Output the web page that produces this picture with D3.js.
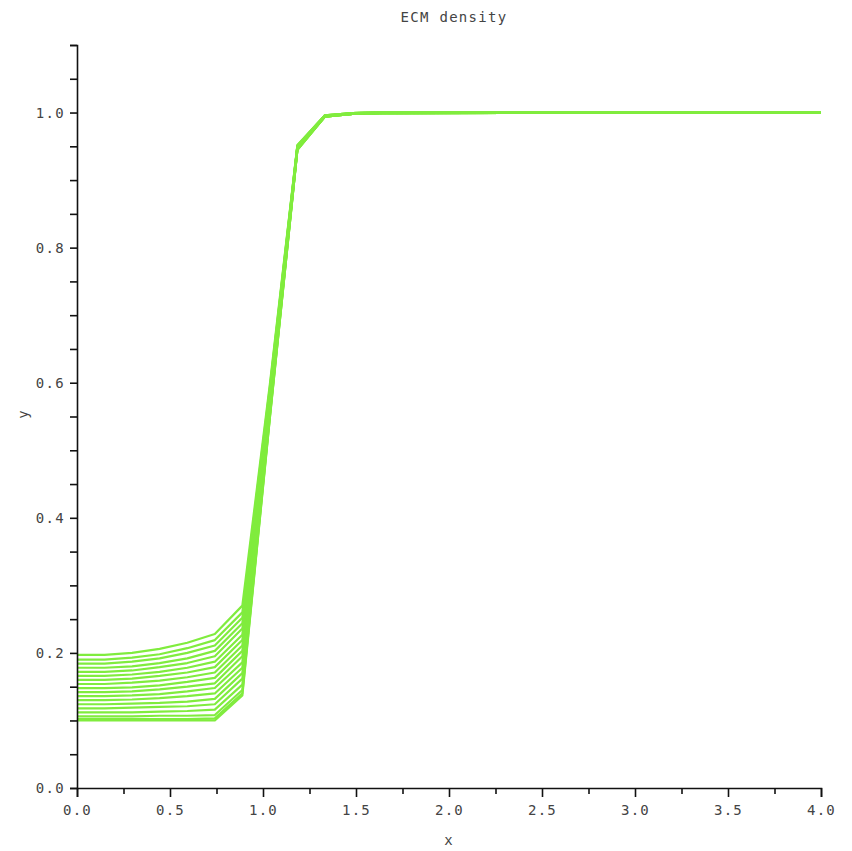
<!DOCTYPE html>
<html>
<head>
<meta charset="utf-8">
<script src="https://cdn.jsdelivr.net/npm/d3@7"></script>
<style>
  html, body { margin: 0; padding: 0; background: #fff; }
  svg text { font-family: "DejaVu Sans Mono", "Liberation Mono", monospace; font-size: 14px; fill: #444; letter-spacing: 1.3px; }
</style>
</head>
<body>
<svg id="chart" width="852" height="851"></svg>
<script>
// Mesh nodes along x
const xNodes = [0, 0.148, 0.296, 0.444, 0.593, 0.741, 0.889, 1.037, 1.185, 1.333, 1.481, 1.630, 4.0];

// ECM density profiles, one per output time (earliest first)
const density = [
  [0.100, 0.100, 0.100, 0.100, 0.100, 0.100, 0.137, 0.548, 0.945, 0.994, 0.998, 0.999, 1.000],
  [0.102, 0.102, 0.102, 0.102, 0.102, 0.103, 0.140, 0.549, 0.945, 0.994, 0.998, 0.999, 1.000],
  [0.106, 0.106, 0.106, 0.107, 0.107, 0.108, 0.145, 0.551, 0.945, 0.994, 0.998, 0.999, 1.000],
  [0.112, 0.112, 0.112, 0.113, 0.114, 0.116, 0.153, 0.554, 0.946, 0.994, 0.998, 0.999, 1.000],
  [0.118, 0.118, 0.119, 0.120, 0.121, 0.124, 0.162, 0.557, 0.946, 0.994, 0.998, 0.999, 1.000],
  [0.124, 0.124, 0.125, 0.126, 0.128, 0.132, 0.170, 0.560, 0.947, 0.994, 0.998, 0.999, 1.000],
  [0.130, 0.130, 0.131, 0.133, 0.136, 0.140, 0.178, 0.563, 0.947, 0.995, 0.998, 0.999, 1.000],
  [0.136, 0.136, 0.137, 0.139, 0.143, 0.148, 0.186, 0.567, 0.948, 0.995, 0.998, 0.999, 1.000],
  [0.142, 0.142, 0.143, 0.146, 0.150, 0.155, 0.195, 0.570, 0.948, 0.995, 0.998, 0.999, 1.000],
  [0.148, 0.148, 0.149, 0.152, 0.157, 0.163, 0.203, 0.573, 0.948, 0.995, 0.998, 1.000, 1.000],
  [0.154, 0.154, 0.156, 0.159, 0.164, 0.171, 0.211, 0.576, 0.949, 0.995, 0.999, 1.000, 1.000],
  [0.160, 0.160, 0.162, 0.166, 0.171, 0.179, 0.219, 0.579, 0.949, 0.995, 0.999, 1.000, 1.000],
  [0.166, 0.166, 0.168, 0.172, 0.178, 0.187, 0.227, 0.582, 0.950, 0.995, 0.999, 1.000, 1.000],
  [0.172, 0.172, 0.174, 0.179, 0.185, 0.195, 0.236, 0.585, 0.950, 0.995, 0.999, 1.000, 1.000],
  [0.178, 0.178, 0.180, 0.185, 0.192, 0.203, 0.244, 0.588, 0.951, 0.996, 0.999, 1.000, 1.000],
  [0.184, 0.184, 0.187, 0.192, 0.200, 0.211, 0.252, 0.591, 0.951, 0.996, 0.999, 1.000, 1.000],
  [0.190, 0.190, 0.193, 0.198, 0.207, 0.219, 0.260, 0.594, 0.951, 0.996, 0.999, 1.000, 1.000],
  [0.197, 0.197, 0.200, 0.206, 0.215, 0.228, 0.270, 0.598, 0.952, 0.996, 0.999, 1.000, 1.000]
];

// Axis ticks
const xMajorTicks = [0, 0.5, 1.0, 1.5, 2.0, 2.5, 3.0, 3.5, 4.0];
const xMinorTicks = [0.25, 0.75, 1.25, 1.75, 2.25, 2.75, 3.25, 3.75];
const yMajorTicks = [0, 0.2, 0.4, 0.6, 0.8, 1.0];
const yMinorTicks = [0.05, 0.1, 0.15, 0.25, 0.3, 0.35, 0.45, 0.5, 0.55, 0.65, 0.7, 0.75, 0.85, 0.9, 0.95, 1.05, 1.1];

const titleText = "ECM density";
const xLabel = "x";
const yLabel = "y";

const svg = d3.select("#chart");
const plot = { left: 77, right: 821, top: 45, bottom: 788 };

const x = d3.scaleLinear().domain([0, 4]).range([plot.left, plot.right]);
const y = d3.scaleLinear().domain([0, 1.1]).range([plot.bottom, plot.top]);

// Curves
const line = d3.line()
  .x((d, i) => x(xNodes[i]))
  .y(d => y(d));

svg.append("g")
  .selectAll("path")
  .data(density)
  .join("path")
  .attr("d", line)
  .attr("fill", "none")
  .attr("stroke", "#80ec3e")
  .attr("stroke-width", 2.2)
  .attr("stroke-linejoin", "round");

// X axis
const xAxisG = svg.append("g").attr("transform", `translate(0,${plot.bottom})`);
xAxisG.call(d3.axisBottom(x).tickValues(xMajorTicks).tickFormat(d3.format(".1f")).tickSize(9).tickPadding(8));
xAxisG.append("g").call(d3.axisBottom(x).tickValues(xMinorTicks).tickFormat("").tickSize(6))
  .select(".domain").remove();

// Y axis
const yAxisG = svg.append("g").attr("transform", `translate(${plot.left},0)`);
yAxisG.call(d3.axisLeft(y).tickValues(yMajorTicks).tickFormat(d3.format(".1f")).tickSize(7).tickPadding(5));
yAxisG.append("g").call(d3.axisLeft(y).tickValues(yMinorTicks).tickFormat("").tickSize(7))
  .select(".domain").remove();

svg.selectAll(".domain").attr("stroke", "#111").attr("stroke-width", 1.6);
svg.selectAll(".tick line").attr("stroke", "#111").attr("stroke-width", 1.6);
svg.selectAll(".tick text")
  .style("font-family", "'DejaVu Sans Mono', monospace")
  .style("font-size", "14px")
  .attr("fill", "#444");

// Title and axis labels
svg.append("text")
  .attr("x", 454).attr("y", 22)
  .attr("text-anchor", "middle")
  .text(titleText);

svg.append("text")
  .attr("x", 449).attr("y", 845)
  .attr("text-anchor", "middle")
  .text(xLabel);

svg.append("text")
  .attr("transform", "translate(28,414) rotate(-90)")
  .attr("text-anchor", "middle")
  .text(yLabel);
</script>
</body>
</html>
